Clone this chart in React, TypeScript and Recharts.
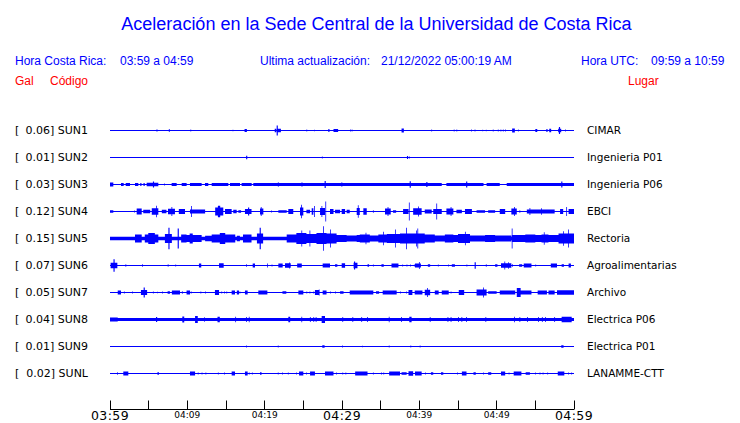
import { ComposedChart, Area, XAxis, YAxis } from 'recharts';

type Ev = [number, number, number]; // [start min, end min, half amplitude gal]

const codes = ['SUN1', 'SUN2', 'SUN3', 'SUN4', 'SUN5', 'SUN6', 'SUN7', 'SUN8', 'SUN9', 'SUNL'];
const peakGal = [0.06, 0.01, 0.03, 0.12, 0.15, 0.07, 0.05, 0.04, 0.01, 0.02];
const places = ['CIMAR', 'Ingenieria P01', 'Ingenieria P06', 'EBCI', 'Rectoria', 'Agroalimentarias', 'Archivo', 'Electrica P06', 'Electrica P01', 'LANAMME-CTT'];
const timeTicks = [0, 5, 10, 15, 20, 25, 30, 35, 40, 45, 50, 55, 60];
const timeLabels: Record<number, string> = { 0: '03:59', 10: '04:09', 20: '04:19', 30: '04:29', 40: '04:39', 50: '04:49', 60: '04:59' };
const bigLabels = [0, 30, 60];

// background noise level per station (gal)
const baseGal = [0.0056, 0.0056, 0.0056, 0.0056, 0.02, 0.0056, 0.0056, 0.018, 0.0056, 0.0056];

const sun1: Ev[] = [[6.0, 6.15, 0.012], [7.6, 7.75, 0.015], [10.4, 10.5, 0.01], [15.85, 15.95, 0.008], [17.4, 17.7, 0.017], [21.3, 21.5, 0.02], [21.55, 21.7, 0.056], [21.7, 22.1, 0.02], [25.4, 25.5, 0.012], [26.4, 26.5, 0.008], [28.2, 28.4, 0.015], [28.9, 29.5, 0.017], [31.05, 31.15, 0.012], [31.25, 31.35, 0.012], [37.7, 38.0, 0.022], [41.55, 41.65, 0.01], [44.45, 44.55, 0.012], [44.8, 44.9, 0.012], [46.7, 46.8, 0.01], [47.15, 47.25, 0.01], [48.15, 48.25, 0.008], [48.6, 48.7, 0.008], [49.5, 49.6, 0.01], [50.15, 50.25, 0.01], [50.5, 50.6, 0.012], [50.8, 50.9, 0.012], [51.1, 51.2, 0.012], [52.0, 52.35, 0.022], [52.75, 52.85, 0.012], [55.0, 55.25, 0.016], [56.4, 56.6, 0.014], [56.8, 57.05, 0.02], [57.95, 58.05, 0.02], [58.05, 58.2, 0.039], [58.2, 58.35, 0.02], [58.85, 58.95, 0.01]];
const sun2: Ev[] = [[17.6, 17.75, 0.019], [27.4, 27.5, 0.011], [38.4, 38.55, 0.016], [38.7, 38.8, 0.012]];
const sun3: Ev[] = [[0.0, 0.43, 0.022], [1.42, 1.77, 0.017], [2.03, 2.59, 0.017], [3.23, 3.66, 0.017], [3.88, 4.09, 0.014], [4.31, 4.52, 0.014], [4.74, 6.25, 0.02], [5.55, 5.7, 0.033], [7.0, 7.1, 0.012], [7.97, 8.62, 0.017], [9.27, 9.91, 0.017], [10.34, 11.85, 0.017], [12.28, 12.71, 0.017], [13.15, 15.3, 0.017], [15.52, 16.81, 0.017], [17.02, 18.32, 0.017], [18.53, 19.83, 0.017], [19.83, 42.9, 0.016], [21.7, 21.85, 0.022], [24.75, 24.9, 0.022], [27.75, 27.9, 0.04], [29.9, 30.05, 0.022], [38.75, 38.9, 0.035], [40.9, 41.05, 0.028], [43.5, 48.3, 0.017], [46.05, 46.2, 0.033], [48.7, 50.4, 0.017], [51.3, 60, 0.018], [58.35, 58.5, 0.033]];
const sun4: Ev[] = [[0.0, 0.43, 0.015], [3.1, 3.2, 0.01], [3.45, 4.1, 0.032], [4.3, 5.2, 0.02], [5.4, 6.25, 0.035], [5.95, 6.05, 0.065], [6.7, 7.3, 0.02], [7.5, 8.4, 0.03], [7.95, 8.05, 0.05], [8.9, 9.7, 0.027], [10.34, 12.3, 0.022], [10.5, 10.6, 0.06], [13.6, 14.65, 0.045], [13.95, 14.25, 0.065], [14.87, 15.73, 0.027], [15.94, 16.38, 0.02], [16.6, 16.95, 0.015], [17.45, 18.3, 0.027], [17.85, 18.0, 0.045], [19.4, 19.83, 0.032], [19.5, 19.6, 0.05], [20.85, 20.95, 0.012], [21.77, 22.85, 0.015], [23.06, 23.7, 0.027], [24.57, 25.0, 0.045], [24.7, 24.8, 0.075], [25.4, 25.87, 0.02], [26.08, 26.3, 0.035], [26.4, 26.5, 0.06], [27.16, 27.8, 0.04], [27.35, 27.45, 0.06], [27.85, 27.95, 0.11], [28.45, 28.9, 0.027], [29.1, 29.75, 0.02], [29.96, 30.4, 0.027], [30.6, 31.0, 0.02], [31.9, 32.3, 0.04], [32.05, 32.15, 0.07], [32.76, 33.2, 0.035], [34.0, 34.1, 0.015], [35.56, 36.3, 0.032], [35.9, 36.0, 0.05], [36.6, 37.0, 0.015], [37.9, 38.6, 0.027], [38.65, 38.75, 0.1], [39.2, 40.3, 0.035], [39.85, 39.95, 0.055], [40.7, 41.6, 0.022], [41.8, 42.9, 0.027], [42.2, 42.3, 0.09], [43.5, 44.4, 0.032], [44.05, 44.15, 0.05], [44.8, 45.5, 0.02], [45.9, 46.8, 0.027], [47.4, 48.5, 0.015], [48.9, 49.8, 0.015], [50.4, 51.1, 0.027], [51.9, 52.6, 0.032], [52.25, 52.35, 0.05], [52.95, 53.05, 0.015], [53.9, 57.5, 0.022], [54.25, 54.35, 0.04], [55.75, 55.85, 0.035], [58.2, 58.6, 0.027], [59.0, 59.1, 0.05], [59.3, 60, 0.027]];
const sun5: Ev[] = [[3.23, 4.1, 0.045], [4.5, 6.25, 0.045], [4.95, 5.8, 0.06], [7.1, 8.0, 0.05], [7.55, 7.7, 0.12], [8.75, 8.9, 0.11], [9.2, 9.9, 0.045], [9.9, 11.85, 0.04], [10.3, 10.7, 0.055], [12.3, 13.15, 0.03], [13.15, 14.2, 0.045], [14.2, 14.9, 0.06], [14.9, 16.2, 0.045], [16.4, 16.8, 0.03], [17.2, 18.3, 0.045], [19.0, 19.8, 0.055], [19.35, 19.5, 0.12], [22.85, 24.1, 0.045], [24.1, 25.4, 0.06], [24.75, 24.85, 0.09], [25.4, 26.7, 0.05], [25.8, 25.9, 0.09], [26.7, 28.0, 0.06], [27.55, 27.65, 0.135], [28.0, 29.3, 0.055], [28.45, 28.55, 0.1], [29.3, 30.6, 0.04], [30.6, 31.9, 0.033], [31.9, 32.3, 0.04], [32.3, 33.6, 0.045], [33.05, 33.15, 0.065], [33.6, 34.7, 0.033], [34.7, 35.8, 0.045], [35.3, 35.4, 0.075], [35.8, 37.5, 0.05], [36.85, 36.95, 0.1], [37.5, 40.7, 0.055], [38.3, 38.4, 0.12], [39.6, 39.7, 0.09], [39.75, 39.85, 0.11], [40.7, 42.0, 0.045], [42.0, 43.3, 0.033], [43.3, 44.4, 0.045], [44.4, 45.0, 0.038], [45.0, 46.55, 0.05], [45.9, 46.0, 0.075], [46.55, 48.5, 0.033], [48.5, 49.8, 0.038], [49.8, 51.9, 0.033], [51.95, 52.05, 0.11], [52.05, 53.7, 0.04], [53.7, 55.0, 0.045], [55.0, 55.8, 0.038], [55.8, 56.7, 0.045], [56.1, 56.2, 0.07], [56.7, 58.0, 0.04], [58.0, 60, 0.055], [58.6, 58.7, 0.08], [59.25, 59.35, 0.1]];
const sun6: Ev[] = [[0.08, 0.95, 0.03], [0.45, 0.6, 0.07], [2.0, 2.1, 0.015], [4.15, 4.25, 0.015], [7.45, 7.6, 0.012], [8.45, 8.55, 0.012], [11.5, 11.8, 0.022], [14.1, 14.7, 0.025], [17.6, 17.7, 0.015], [18.45, 18.75, 0.022], [20.3, 20.4, 0.022], [20.9, 21.0, 0.012], [21.77, 22.33, 0.022], [22.63, 23.37, 0.025], [23.15, 23.25, 0.033], [24.2, 24.8, 0.022], [27.5, 28.45, 0.022], [29.1, 29.4, 0.015], [29.96, 30.4, 0.025], [31.5, 32.0, 0.03], [31.55, 31.7, 0.045], [33.3, 33.5, 0.015], [34.0, 34.1, 0.012], [35.1, 35.4, 0.015], [36.4, 37.3, 0.022], [37.8, 37.9, 0.012], [38.35, 38.45, 0.012], [38.8, 38.9, 0.012], [39.3, 39.4, 0.012], [39.44, 40.2, 0.022], [39.85, 39.95, 0.022], [39.95, 40.05, 0.04], [41.1, 41.4, 0.015], [42.4, 42.5, 0.012], [43.7, 43.8, 0.012], [44.2, 44.6, 0.015], [46.1, 46.2, 0.012], [47.15, 47.3, 0.035], [48.6, 48.7, 0.015], [49.8, 50.1, 0.015], [50.56, 51.9, 0.025], [51.0, 51.1, 0.045], [51.5, 51.6, 0.035], [52.0, 52.1, 0.015], [52.9, 53.3, 0.015], [53.5, 54.5, 0.022], [55.0, 55.1, 0.012], [57.0, 57.8, 0.022], [58.4, 58.7, 0.015], [59.3, 59.6, 0.022]];
const sun7: Ev[] = [[1.0, 1.42, 0.022], [1.8, 1.9, 0.012], [2.85, 2.95, 0.01], [4.0, 4.8, 0.028], [4.35, 4.5, 0.055], [5.55, 5.65, 0.012], [6.15, 6.2, 0.01], [6.75, 6.85, 0.01], [7.45, 7.75, 0.015], [8.0, 9.05, 0.022], [9.3, 9.4, 0.015], [9.9, 10.35, 0.022], [10.45, 10.55, 0.012], [11.7, 11.8, 0.01], [12.3, 12.4, 0.01], [13.57, 14.1, 0.028], [14.4, 14.5, 0.012], [14.75, 14.85, 0.01], [15.05, 15.15, 0.012], [15.73, 16.16, 0.022], [16.4, 16.68, 0.022], [16.75, 16.85, 0.012], [17.45, 17.8, 0.022], [19.18, 20.35, 0.022], [22.3, 22.8, 0.015], [24.36, 25.0, 0.022], [25.4, 25.5, 0.012], [25.8, 25.9, 0.012], [26.3, 26.4, 0.012], [26.5, 27.1, 0.028], [27.0, 27.1, 0.033], [27.5, 28.0, 0.022], [28.45, 28.55, 0.012], [29.1, 29.2, 0.012], [29.75, 30.2, 0.015], [31.0, 34.05, 0.022], [34.4, 34.8, 0.015], [35.26, 37.07, 0.022], [37.5, 37.6, 0.012], [38.3, 38.4, 0.012], [38.6, 39.1, 0.028], [39.4, 40.4, 0.022], [40.7, 41.4, 0.03], [41.0, 41.1, 0.05], [42.0, 42.5, 0.022], [42.9, 43.8, 0.022], [44.05, 44.15, 0.012], [45.1, 45.8, 0.028], [47.4, 48.7, 0.032], [48.25, 48.35, 0.055], [48.9, 50.0, 0.015], [50.4, 52.4, 0.022], [52.6, 53.1, 0.05], [53.1, 54.5, 0.022], [55.3, 56.5, 0.022], [56.7, 57.5, 0.022], [57.8, 60, 0.025]];
const sun8: Ev[] = [[0.0, 1.0, 0.022], [5.95, 6.1, 0.028], [9.35, 9.6, 0.033], [11.0, 11.35, 0.04], [12.15, 12.25, 0.025], [13.9, 14.2, 0.03], [16.2, 16.3, 0.03], [17.6, 17.7, 0.028], [17.95, 18.05, 0.03], [23.06, 23.3, 0.03], [24.75, 24.85, 0.03], [25.85, 25.95, 0.028], [26.3, 26.4, 0.028], [26.6, 26.7, 0.028], [27.37, 27.8, 0.04], [30.05, 30.15, 0.028], [31.35, 31.45, 0.028], [32.5, 32.6, 0.028], [33.25, 33.35, 0.028], [36.05, 36.15, 0.03], [37.65, 37.75, 0.028], [38.7, 39.0, 0.03], [41.35, 41.45, 0.028], [43.65, 43.75, 0.028], [44.05, 44.15, 0.028], [45.0, 45.1, 0.028], [45.45, 45.55, 0.028], [46.05, 46.15, 0.028], [48.55, 48.65, 0.028], [52.25, 52.35, 0.03], [52.95, 53.05, 0.028], [53.95, 54.05, 0.028], [55.35, 55.45, 0.028], [55.85, 55.95, 0.028], [56.25, 56.35, 0.028], [57.45, 57.55, 0.028], [58.4, 59.7, 0.03]];
const sun9: Ev[] = [[17.6, 17.7, 0.01], [21.7, 21.8, 0.01], [27.45, 27.75, 0.014], [30.0, 30.1, 0.01], [32.6, 32.7, 0.008], [36.05, 36.15, 0.01], [38.85, 38.95, 0.01], [40.05, 40.15, 0.01], [58.35, 58.65, 0.014]];
const sunl: Ev[] = [[0.9, 1.0, 0.015], [1.72, 2.37, 0.022], [6.15, 6.3, 0.017], [10.34, 11.0, 0.022], [11.35, 11.45, 0.012], [11.85, 11.95, 0.012], [12.35, 12.45, 0.012], [13.95, 14.05, 0.012], [14.75, 14.85, 0.012], [15.73, 16.16, 0.022], [17.45, 17.8, 0.022], [17.95, 18.05, 0.012], [18.35, 18.45, 0.012], [19.4, 19.6, 0.015], [21.7, 21.8, 0.012], [22.25, 22.35, 0.012], [23.0, 23.1, 0.012], [24.05, 24.15, 0.012], [24.45, 25.0, 0.022], [25.35, 25.45, 0.012], [25.87, 26.5, 0.022], [27.8, 28.9, 0.022], [29.25, 29.35, 0.012], [30.05, 30.15, 0.012], [30.45, 30.55, 0.012], [31.7, 33.3, 0.022], [34.0, 34.1, 0.012], [35.05, 35.15, 0.012], [35.35, 35.45, 0.012], [36.1, 37.5, 0.022], [37.7, 38.36, 0.015], [38.6, 39.2, 0.025], [39.44, 40.3, 0.022], [40.75, 40.85, 0.012], [41.5, 41.8, 0.015], [42.8, 43.1, 0.015], [44.9, 45.0, 0.012], [45.5, 46.1, 0.022], [47.0, 47.3, 0.015], [48.25, 48.35, 0.012], [48.9, 49.3, 0.015], [50.56, 51.1, 0.022], [51.55, 51.65, 0.012], [52.2, 53.2, 0.022], [53.75, 54.3, 0.015], [54.95, 55.05, 0.012], [55.55, 55.65, 0.012], [55.95, 56.05, 0.012], [56.55, 56.65, 0.012], [57.9, 58.75, 0.022], [59.25, 59.35, 0.012], [59.65, 59.75, 0.012]];

const traces = [sun1, sun2, sun3, sun4, sun5, sun6, sun7, sun8, sun9, sunl];

// layout
const LANE_GAL = 0.3;
const PX_PER_GAL = 90;
const PLOT_TOP = 116;
const PLOT_BOTTOM = 409.5;
const FIRST_LANE_PX = 130.5;
const yMax = (FIRST_LANE_PX - PLOT_TOP) / PX_PER_GAL;
const yMin = yMax - (PLOT_BOTTOM - PLOT_TOP) / PX_PER_GAL;
const laneTicks = codes.map((_, k) => -k * LANE_GAL);

const BLUE = '#0000ff';
const RED = '#ff0000';
const SANS = 'Liberation Sans, Arial, sans-serif';
const DEJAVU = 'DejaVu Sans, sans-serif';

const envelope = (k: number, t: number) =>
  traces[k].reduce((m, [a, b, g]) => (t >= a && t < b ? Math.max(m, g) : m), baseGal[k]);

const times = Array.from(new Set([0, 60, ...traces.flat().flatMap((e) => [e[0], Math.min(60, e[1])])])).sort((a, b) => a - b);

const chartData = times.map((t) => {
  const row: Record<string, any> = { t };
  traces.forEach((_, k) => {
    const c = -k * LANE_GAL;
    const g = envelope(k, t);
    row['s' + k] = [c - g, c + g];
  });
  return row;
});

const laneIndex = (v: number) => Math.round(-v / LANE_GAL);

function LeftTick({ x, y, payload }: any) {
  const k = laneIndex(payload.value);
  return (
    <g>
      <text x={15} y={y} dy={3.8} fontFamily={DEJAVU} fontSize={11} fill="#000">[</text>
      <text x={x} y={y} dy={3.8} textAnchor="end" fontFamily={DEJAVU} fontSize={11} fill="#000">
        {`${peakGal[k].toFixed(2)}] ${codes[k]}`}
      </text>
    </g>
  );
}

function RightTick({ x, y, payload }: any) {
  const k = laneIndex(payload.value);
  return (
    <text x={x} y={y} dy={3.8} textAnchor="start" fontFamily={DEJAVU} fontSize={10.5} fill="#000">
      {places[k]}
    </text>
  );
}

function TimeTick({ x, y, payload }: any) {
  const v = payload.value as number;
  const lx = Math.floor(x) + 0.5;
  const label = timeLabels[v];
  const big = bigLabels.includes(v);
  return (
    <g>
      <line x1={lx} x2={lx} y1={y - 9} y2={y} stroke="#000" strokeWidth={1} />
      {label && (
        <text x={x} y={y} dy={big ? 10.5 : 8} textAnchor="middle" fontFamily={DEJAVU} fontSize={big ? 12.5 : 9} letterSpacing={big ? 0.4 : 0} fill="#000">
          {label}
        </text>
      )}
    </g>
  );
}

export default function App() {
  return (
    <div style={{ position: 'absolute', left: 0, top: 0, width: 740, height: 423, background: '#fff' }}>
      <svg width={740} height={423} style={{ position: 'absolute', left: 0, top: 0 }}>
        <text x={376.5} y={29.5} textAnchor="middle" fontFamily={SANS} fontSize={18} fill={BLUE}>
          Aceleración en la Sede Central de la Universidad de Costa Rica
        </text>
        <g fontFamily={SANS} fontSize={12} fill={BLUE}>
          <text x={15} y={65}>Hora Costa Rica:</text>
          <text x={120} y={65}>03:59 a 04:59</text>
          <text x={260} y={65}>Ultima actualización:</text>
          <text x={381} y={65}>21/12/2022 05:00:19 AM</text>
          <text x={581} y={65}>Hora UTC:</text>
          <text x={651} y={65}>09:59 a 10:59</text>
        </g>
        <g fontFamily={SANS} fontSize={12} fill={RED}>
          <text x={15} y={85}>Gal</text>
          <text x={50} y={85}>Código</text>
          <text x={628} y={85}>Lugar</text>
        </g>
      </svg>
      <div style={{ position: 'absolute', left: 0, top: 0 }}>
        <ComposedChart width={740} height={423} data={chartData} margin={{ top: PLOT_TOP, right: 0, bottom: 0, left: 0 }}>
          <XAxis
            dataKey="t"
            type="number"
            domain={[0, 60]}
            ticks={timeTicks}
            interval={0}
            height={423 - PLOT_BOTTOM}
            tickLine={false}
            tickSize={0}
            tickMargin={0}
            axisLine={{ stroke: '#000', strokeWidth: 1 }}
            tick={<TimeTick />}
            allowDataOverflow
          />
          <YAxis
            yAxisId="l"
            orientation="left"
            type="number"
            width={110}
            domain={[yMin, yMax]}
            ticks={laneTicks}
            interval={0}
            allowDataOverflow
            axisLine={false}
            tickLine={false}
            tickSize={0}
            tickMargin={22}
            tick={<LeftTick />}
          />
          <YAxis
            yAxisId="r"
            orientation="right"
            type="number"
            width={166}
            domain={[yMin, yMax]}
            ticks={laneTicks}
            interval={0}
            allowDataOverflow
            axisLine={false}
            tickLine={false}
            tickSize={0}
            tickMargin={13}
            tick={<RightTick />}
          />
          {traces.map((_, k) => (
            <Area
              key={codes[k]}
              yAxisId="l"
              dataKey={'s' + k}
              type="stepAfter"
              stroke="none"
              fill={BLUE}
              fillOpacity={1}
              dot={false}
              activeDot={false}
              isAnimationActive={false}
            />
          ))}
        </ComposedChart>
      </div>
    </div>
  );
}
